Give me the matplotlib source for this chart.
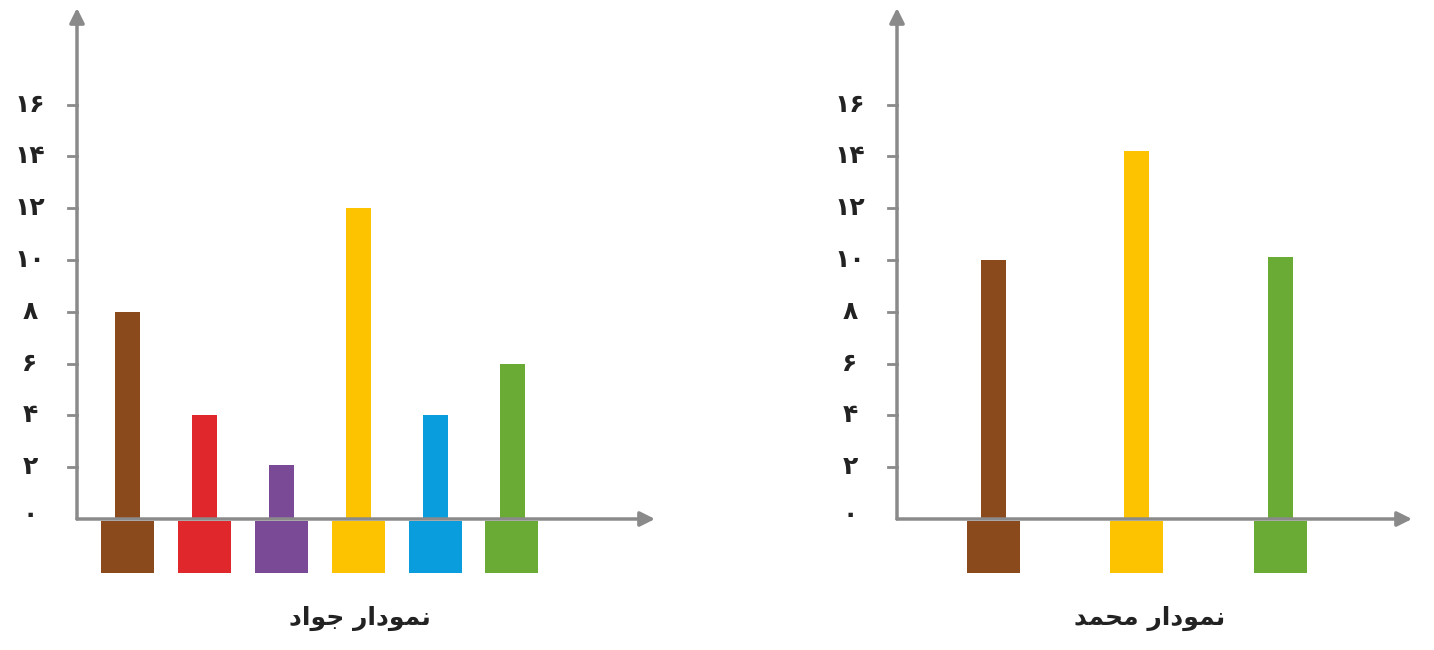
import matplotlib
matplotlib.use("Agg")
import matplotlib.pyplot as plt

# data
left_vals = [8, 4, 2.1, 12, 4, 6]
left_colors = ["#8B4A1C", "#E0282C", "#7B4A96", "#FDC300", "#0A9DDD", "#6AAB35"]
right_vals = [10, 14.2, 10.1]
right_colors = ["#8B4A1C", "#FDC300", "#6AAB35"]
yticks = [0, 2, 4, 6, 8, 10, 12, 14, 16]
ytick_labels = ["٠", "۲", "۴", "۶", "۸", "۱٠", "۱۲", "۱۴", "۱۶"]
# pre-shaped Persian titles (visual order)
left_title = "\uFEA9\uFE8D\uFEEE\uFE9F \uFEAD\uFE8D\uFEA9\uFEEE\uFEE4\uFEE7"
right_title = "\uFEAA\uFEE4\uFEA4\uFEE3 \uFEAD\uFE8D\uFEA9\uFEEE\uFEE4\uFEE7"

W, H = 1434, 650
fig = plt.figure(figsize=(W/100, H/100), dpi=100)
GRAY = "#8a8a8a"
ppu = 25.9  # px per unit
y0px = 519
ytop, ybot = 5, 600
ylim = (-(ybot - y0px)/ppu, (y0px - ytop)/ppu)

def panel(px_left, px_right, c0, spacing, yaxis_px, arrow_px, vals, colors, title, title_px):
    ax = fig.add_axes([px_left/W, (H-ybot)/H, (px_right-px_left)/W, (ybot-ytop)/H])
    ax.set_xlim((px_left-c0)/spacing, (px_right-c0)/spacing)
    ax.set_ylim(*ylim)
    ax.axis("off")
    xs = list(range(len(vals)))
    ax.bar(xs, vals, width=25/spacing, color=colors, zorder=2)
    ax.bar(xs, [-2.0]*len(vals), bottom=-0.08, width=53/spacing, color=colors, zorder=2)
    ya = (yaxis_px-c0)/spacing
    xa = (arrow_px-c0)/spacing
    ax.annotate("", xy=(xa, 0), xytext=(ya, 0),
                arrowprops=dict(arrowstyle="-|>", color=GRAY, lw=2.5, mutation_scale=22, shrinkA=0, shrinkB=0), zorder=3)
    ax.annotate("", xy=(ya, (y0px-8)/ppu), xytext=(ya, 0),
                arrowprops=dict(arrowstyle="-|>", color=GRAY, lw=2.5, mutation_scale=22, shrinkA=0, shrinkB=0), zorder=3)
    tl = 9/spacing
    for v, lab in zip(yticks, ytick_labels):
        if v > 0:
            ax.plot([ya-tl, ya], [v, v], color=GRAY, lw=2, zorder=3)
        ax.text(ya-47/spacing, v + (0.15 if v == 0 else 0), lab, ha="center", va="center",
                fontsize=18, fontweight="bold", color="#222222", family=["DejaVu Sans"])
    ax.text((title_px-c0)/spacing, -(618-y0px)/ppu, title, ha="center", va="center",
            fontsize=18, fontweight="bold", color="#222222", family=["DejaVu Sans"])

panel(0, 680, 127, 77, 77, 655, left_vals, left_colors, left_title, 360)
panel(800, 1434, 993, 143.5, 897, 1412, right_vals, right_colors, right_title, 1150)

fig.savefig("out.png", dpi=100, facecolor="white")
